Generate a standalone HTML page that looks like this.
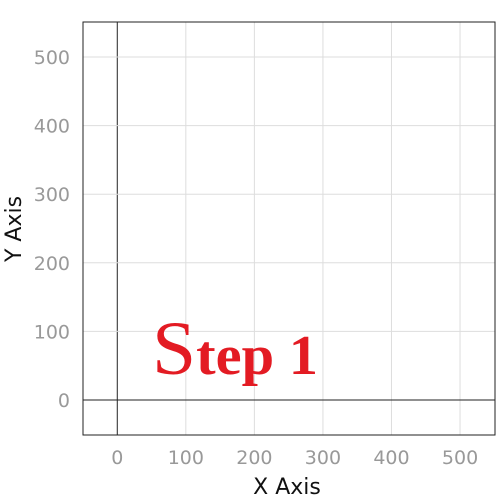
<!DOCTYPE html>
<html><head><meta charset="utf-8"><style>
body{margin:0;background:#fff;width:500px;height:500px;overflow:hidden}
svg{display:block}
</style></head><body>
<svg id="chart" width="500" height="500" xmlns="http://www.w3.org/2000/svg" font-family="DejaVu Sans, Liberation Sans, sans-serif">
<g id="grid"></g>
<g id="ticks"></g>
<rect x="83" y="22" width="412" height="413" fill="none" stroke="#222" stroke-width="1"/>
<text x="152" y="374" font-family="Liberation Serif, serif" font-weight="bold" font-size="56" fill="#e31b23" textLength="166" lengthAdjust="spacingAndGlyphs"><tspan font-size="76" font-weight="normal">S</tspan>tep 1</text>
<text x="287" y="494" text-anchor="middle" font-size="22" fill="#111">X Axis</text>
<text transform="translate(21,229) rotate(-90)" text-anchor="middle" font-size="22" fill="#111">Y Axis</text>
</svg>
<script>
const xTicks=[0,100,200,300,400,500];
const yTicks=[0,100,200,300,400,500];
const xMin=-50,xMax=551,yMin=-51,yMax=551;
const L=83,R=495,T=22,B=435;
const sx=v=>L+(v-xMin)/(xMax-xMin)*(R-L);
const sy=v=>B-(v-yMin)/(yMax-yMin)*(B-T);
const NS='http://www.w3.org/2000/svg';
const grid=document.getElementById('grid'),tk=document.getElementById('ticks');
function mk(tag,attrs,parent){const e=document.createElementNS(NS,tag);for(const k in attrs)e.setAttribute(k,attrs[k]);parent.appendChild(e);return e;}
xTicks.forEach(v=>{
  const x=sx(v);
  const l=mk('line',{x1:x,x2:x,y1:T,y2:B,stroke:v===0?'#222':'#ddd','stroke-width':1},grid);
  
  
  const t=mk('text',{x:x,y:464,'text-anchor':'middle','font-size':19,fill:'#999'},tk);
  t.textContent=v;
  
  
});
yTicks.forEach(v=>{
  const y=sy(v);
  const l=mk('line',{x1:L,x2:R,y1:y,y2:y,stroke:v===0?'#222':'#ddd','stroke-width':1},grid);
  
  
  const t=mk('text',{x:70,y:y+7,'text-anchor':'end','font-size':19,fill:'#999'},tk);
  t.textContent=v;
  
  
});
</script>
</body></html>
